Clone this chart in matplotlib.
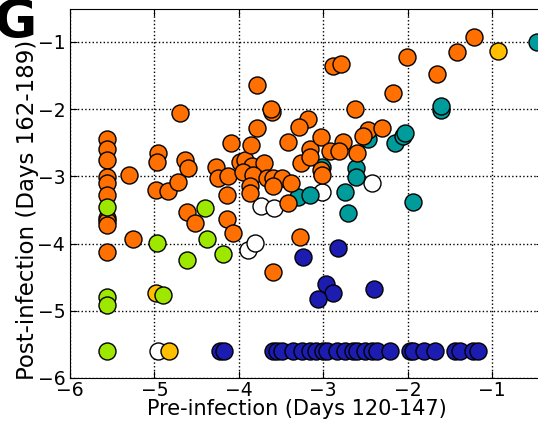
import matplotlib
matplotlib.use('Agg')
import matplotlib.pyplot as plt
import numpy as np

FLOOR = -5.6

orange_x = [-5.56, -5.56, -5.56, -5.56, -5.56, -5.56, -5.56, -5.56, -5.56, -5.56,
            -5.30, -5.25, -4.96, -4.97, -4.98, -4.84, -4.72, -4.70, -4.64, -4.60,
            -4.61, -4.52, -4.27, -4.25, -4.13, -4.14, -4.14, -4.07, -4.09, -3.99,
            -3.93, -3.86, -3.84, -3.70, -3.95, -3.83, -3.67, -3.59, -3.49, -3.38,
            -3.59, -3.87, -3.87, -3.61, -3.78, -3.78, -3.62, -3.18, -3.29, -3.42,
            -3.16, -3.03, -3.26, -3.16, -3.03, -3.42, -3.27, -3.59, -2.88, -2.79,
            -2.62, -2.47, -2.53, -2.30, -2.77, -2.92, -2.81, -2.60, -3.01, -2.17,
            -2.01, -1.65, -1.41, -1.21]
orange_y = [-2.44, -2.60, -2.75, -3.01, -3.10, -3.27, -3.62, -3.67, -3.72, -4.12,
            -2.98, -3.93, -2.65, -2.78, -3.21, -3.22, -3.08, -2.06, -2.75, -2.88,
            -3.53, -3.69, -2.86, -3.02, -2.99, -3.27, -3.64, -3.84, -2.50, -2.78,
            -2.75, -2.53, -2.84, -2.80, -2.93, -2.98, -3.02, -3.02, -3.02, -3.10,
            -3.15, -3.15, -3.25, -2.04, -2.28, -1.64, -2.00, -2.14, -2.26, -2.49,
            -2.60, -2.41, -2.80, -2.71, -2.90, -3.40, -3.90, -4.42, -1.36, -1.33,
            -2.00, -2.31, -2.40, -2.28, -2.49, -2.62, -2.62, -2.65, -2.98, -1.76,
            -1.23, -1.47, -1.15, -0.93]

teal_x = [-3.30, -3.16, -3.01, -2.74, -2.71, -2.61, -2.61, -2.47, -2.15, -2.05,
          -2.03, -1.94, -1.60, -1.60, -0.47]
teal_y = [-3.31, -3.27, -2.86, -3.23, -3.54, -2.87, -3.01, -2.44, -2.50, -2.40,
          -2.35, -3.38, -2.01, -1.96, -1.00]

white_x = [-4.96, -3.89, -3.81, -3.74, -3.58, -3.01, -2.42]
white_y = [FLOOR, -4.09, -3.99, -3.44, -3.47, -3.23, -3.10]

lime_x = [-5.56, -5.56, -5.56, -5.56, -4.97, -4.61, -4.40, -4.38, -4.19, -4.90]
lime_y = [-3.45, -4.80, -4.91, FLOOR, -3.99, -4.24, -3.47, -3.93, -4.15, -4.76]

gold_x = [-4.98, -4.83, -0.93]
gold_y = [-4.73, FLOOR, -1.13]

blue_x = [-2.82, -3.24, -2.97, -2.88, -3.06, -2.40,
          -4.22, -4.18, -3.60, -3.55, -3.49, -3.36, -3.25, -3.16, -3.08, -3.00,
          -2.96, -2.84, -2.74, -2.65, -2.60, -2.50, -2.42, -2.36, -2.21, -1.97,
          -1.94, -1.80, -1.68, -1.44, -1.38, -1.22, -1.17]
blue_y = [-4.06, -4.20, -4.60, -4.73, -4.82, -4.67] + [FLOOR] * 27

ticks = [-6, -5, -4, -3, -2, -1]

fig = plt.figure(figsize=(5.38, 4.25), dpi=100)
ax = fig.add_axes([0.1301, 0.1106, 0.8785, 0.8682])

marker_kw = dict(s=150, edgecolors='k', linewidths=1.0, zorder=3)
ax.scatter(white_x, white_y, c='white', **marker_kw)
ax.scatter(gold_x, gold_y, c='#ffbf00', **marker_kw)
ax.scatter(blue_x, blue_y, c='#1c1cb0', **marker_kw)
ax.scatter(teal_x, teal_y, c='#009b9b', **marker_kw)
ax.scatter(orange_x, orange_y, c='#ff7000', **marker_kw)
ax.scatter(lime_x, lime_y, c='#9ee800', **marker_kw)

ax.set_xlim(-6, -0.4)
ax.set_ylim(-6, -0.51)
ax.set_xticks(ticks)
ax.set_yticks(ticks)
ax.grid(True, color='k', linestyle=':', linewidth=1.0)
ax.set_axisbelow(True)
ax.tick_params(direction='in', top=True, right=True, length=5, labelsize=13.5)
ax.tick_params(axis='x', pad=2)
ax.set_xlabel('Pre-infection (Days 120-147)', fontsize=15)
ax.set_ylabel('Post-infection (Days 162-189)', fontsize=16.5)
ax.xaxis.set_label_coords(0.48, -0.057)
ax.yaxis.set_label_coords(-0.066, 0.455)

fig.text(-0.012, 0.91, 'G', fontsize=38, fontweight='bold', va='baseline', ha='left')

fig.savefig('out.png', dpi=100)
